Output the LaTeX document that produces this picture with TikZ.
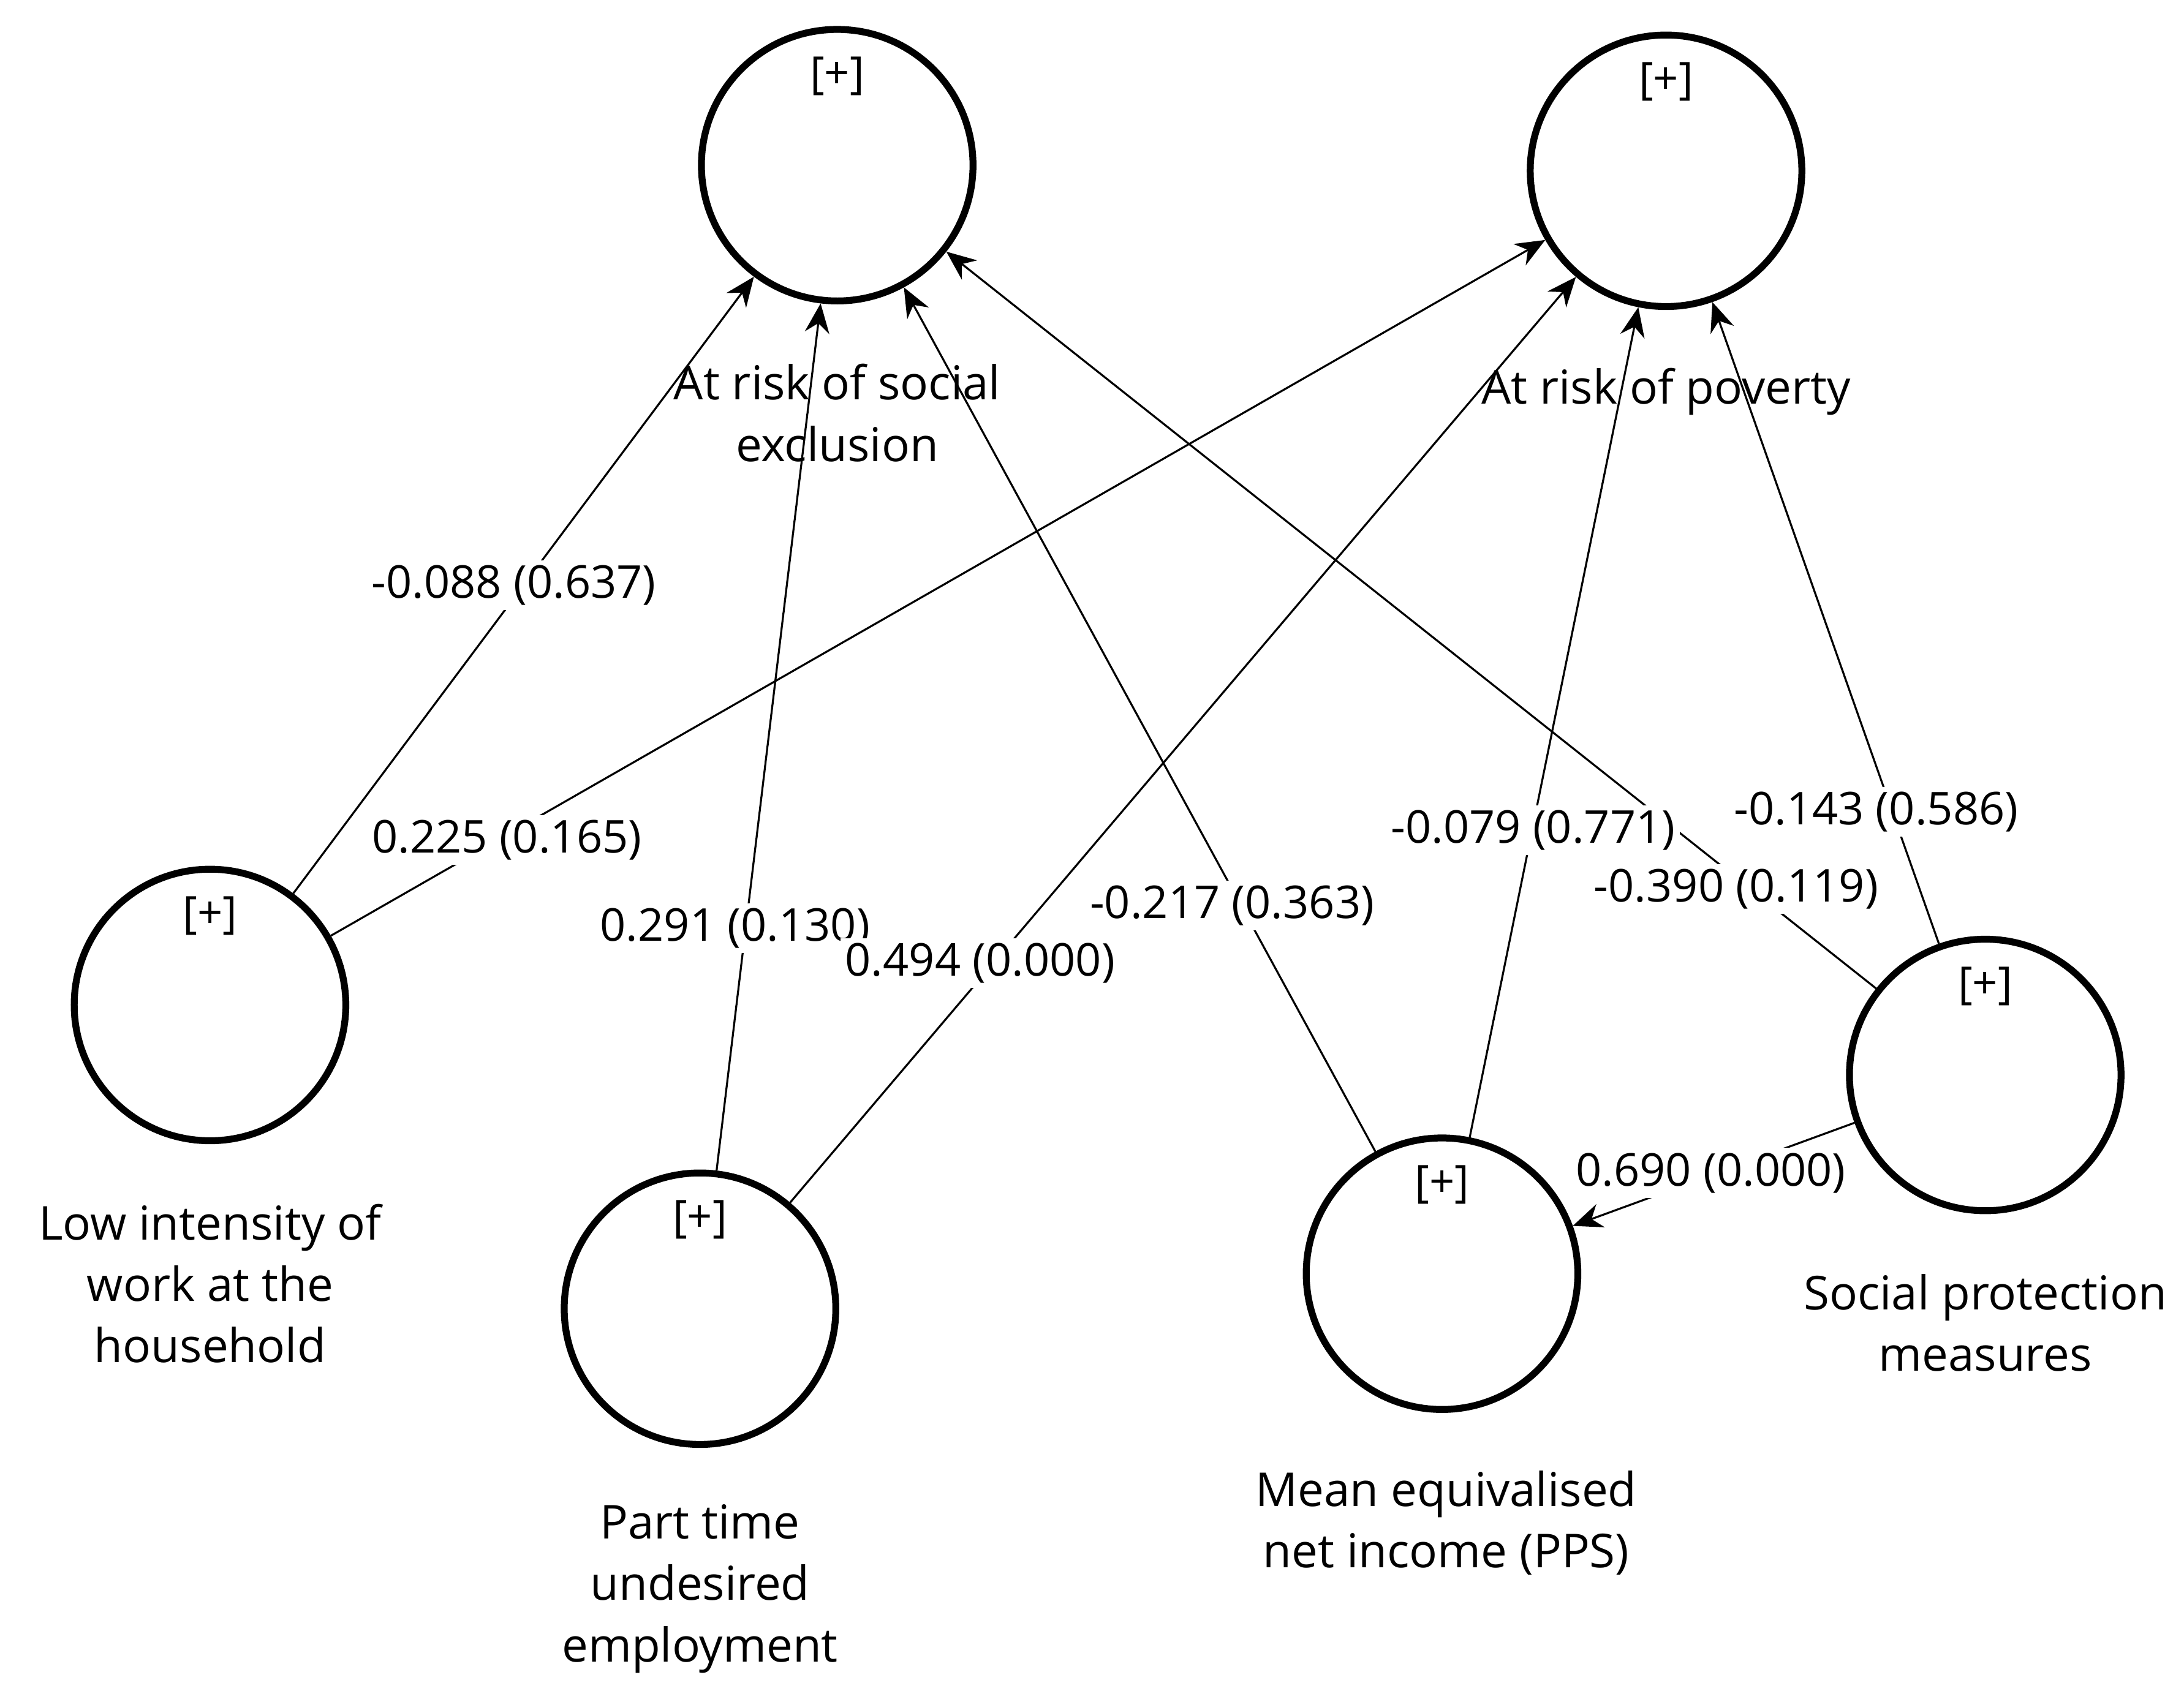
\documentclass[tikz,border=0pt]{standalone}
\usepackage{fontspec}
\setmainfont{Open Sans}
\usetikzlibrary{arrows.meta}
\begin{document}
\begin{tikzpicture}[
  lv/.style={circle,draw,line width=1.4pt,minimum size=1.94cm,inner sep=0pt},
  plus/.style={font=\fontsize{9}{10}\selectfont,inner sep=0pt},
  lvname/.style={font=\fontsize{9.5}{12.5}\selectfont,align=center,inner sep=0pt},
  lab/.style={font=\fontsize{9.2}{10}\selectfont,fill=white,inner sep=1pt},
  conn/.style={line width=0.4pt,-{Stealth[length=6pt,width=5pt]}}
]
\useasboundingbox (0,0) rectangle (15.6,-12.08);
\node[lv] (SE) at (5.98,-1.18) {};
\node[lv] (P) at (11.90,-1.22) {};
\node[lv] (L) at (1.50,-7.18) {};
\node[lv] (PT) at (5.00,-9.35) {};
\node[lv] (M) at (10.30,-9.10) {};
\node[lv] (S) at (14.18,-7.68) {};
\foreach \n in {SE,P,L,PT,M,S} \node[plus] at ([yshift=-0.36cm]\n.north) {[+]};
\node[lvname] at (5.98,-2.95) {At risk of social\\exclusion};
\node[lvname] at (11.90,-2.80) {At risk of poverty};
\node[lvname] at (1.50,-9.17) {Low intensity of\\work at the\\household};
\node[lvname] at (5.00,-11.35) {Part time\\undesired\\employment};
\node[lvname] at (10.33,-10.88) {Mean equivalised\\net income (PPS)};
\node[lvname] at (14.18,-9.45) {Social protection\\measures};
\draw[conn] (L) -- (SE);
\draw[conn] (L) -- (P);
\draw[conn] (PT) -- (SE);
\draw[conn] (PT) -- (P);
\draw[conn] (M) -- (SE);
\draw[conn] (M) -- (P);
\draw[conn] (S) -- (SE);
\draw[conn] (S) -- (P);
\draw[conn] (S) -- (M);
\node[lab] at (3.67,-4.18) {-0.088 (0.637)};
\node[lab] at (3.62,-6.00) {0.225 (0.165)};
\node[lab] at (5.25,-6.63) {0.291 (0.130)};
\node[lab] at (7.00,-6.88) {0.494 (0.000)};
\node[lab] at (8.80,-6.47) {-0.217 (0.363)};
\node[lab] at (10.95,-5.93) {-0.079 (0.771)};
\node[lab] at (12.40,-6.35) {-0.390 (0.119)};
\node[lab] at (13.40,-5.80) {-0.143 (0.586)};
\node[lab] at (12.22,-8.38) {0.690 (0.000)};
\end{tikzpicture}
\end{document}
